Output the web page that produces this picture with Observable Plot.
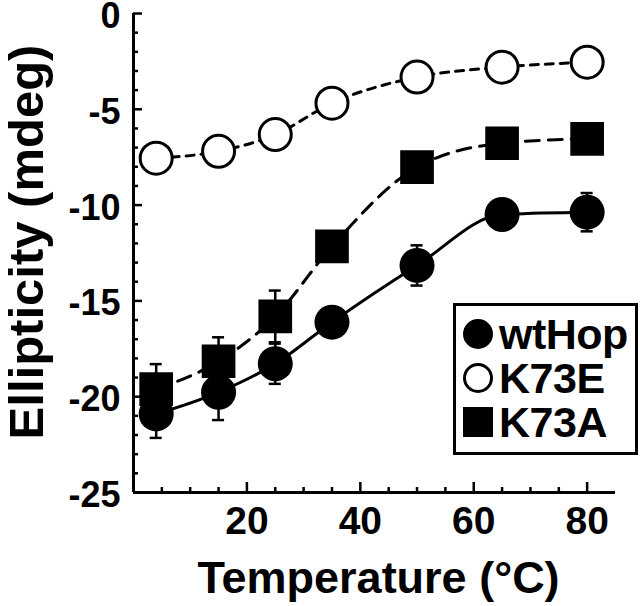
<!DOCTYPE html>
<html>
<head>
<meta charset="utf-8">
<script src="https://cdn.jsdelivr.net/npm/d3@7"></script>
<script src="https://cdn.jsdelivr.net/npm/@observablehq/plot@0.6"></script>
<style>
  html, body { margin: 0; padding: 0; background: white; }
  #wrap { position: relative; width: 640px; height: 606px; font-family: 'Liberation Sans', Arial, sans-serif; }
  #legend { position: absolute; left: 453px; top: 303px; width: 179px; height: 146px; border: 3px solid black; background: white; box-sizing: content-box; }
  .row { position: absolute; left: 0; height: 44px; display: flex; align-items: center; }
  .row svg { margin-left: 6px; }
  .row span { font-weight: bold; font-size: 43px; margin-left: 5px; line-height: 44px; color: black; letter-spacing: -0.5px; }
</style>
</head>
<body>
<div id="wrap"></div>
<script>
// ---- data ----
const temperature = [4, 15, 25, 35, 50, 65, 80];
const wtHop = [-20.9, -19.77, -18.28, -16.11, -13.15, -10.49, -10.37];
const wtHopErr = [1.25, 1.45, 1.05, 0.6, 1.05, 0.5, 1.0];
const K73E = [-7.55, -7.19, -6.32, -4.68, -3.32, -2.80, -2.54];
const K73A = [-19.6, -18.15, -15.81, -12.15, -8.02, -6.77, -6.54];
const K73AErr = [1.3, 1.25, 1.35, 0.5, 0.5, 0.5, 0.5];
const seriesNames = ["wtHop", "K73E", "K73A"];

const xMajorTicks = [20, 40, 60, 80];
const xTickLabels = ["20", "40", "60", "80"];
const xMinorTicks = [5, 10, 15, 25, 30, 35, 45, 50, 55, 65, 70, 75];
const yMajorTicks = [-25, -20, -15, -10, -5, 0];
const yTickLabels = ["-25", "-20", "-15", "-10", "-5", "0"];
const yMinorTicks = [-24,-23,-22,-21,-19,-18,-17,-16,-14,-13,-12,-11,-9,-8,-7,-6,-4,-3,-2,-1];
const xTitle = "Temperature (°C)";
const yTitle = "Ellipticity (mdeg)";

// ---- tables built from arrays ----
const wt = temperature.map((t, i) => ({t, v: wtHop[i], e: wtHopErr[i]}));
const ke = temperature.map((t, i) => ({t, v: K73E[i]}));
const ka = temperature.map((t, i) => ({t, v: K73A[i], e: K73AErr[i]}));

const xFmt = d => xTickLabels[xMajorTicks.indexOf(d)];
const yFmt = d => yTickLabels[yMajorTicks.indexOf(d)];
const font = "'Liberation Sans', Arial, sans-serif";

const errBars = (data) => [
  Plot.ruleX(data, {x: "t", y1: d => d.v - d.e, y2: d => d.v + d.e, stroke: "black", strokeWidth: 2.5}),
  Plot.ruleY(data, {y: d => d.v - d.e, x1: "t", x2: "t", insetLeft: -6, insetRight: -6, stroke: "black", strokeWidth: 2.5}),
  Plot.ruleY(data, {y: d => d.v + d.e, x1: "t", x2: "t", insetLeft: -6, insetRight: -6, stroke: "black", strokeWidth: 2.5})
];

const chart = Plot.plot({
  width: 640,
  height: 606,
  marginLeft: 133,
  marginRight: 25,
  marginTop: 13,
  marginBottom: 114,
  style: {fontFamily: font, background: "white", color: "black", overflow: "visible"},
  x: {domain: [0, 85]},
  y: {domain: [-25, 0]},
  marks: [
    // curves
    Plot.line(ke, {x: "t", y: "v", curve: "monotone-x", stroke: "black", strokeWidth: 3, strokeDasharray: "8,7"}),
    Plot.line(ka, {x: "t", y: "v", curve: "monotone-x", stroke: "black", strokeWidth: 3, strokeDasharray: "14,9"}),
    Plot.line(wt, {x: "t", y: "v", curve: "monotone-x", stroke: "black", strokeWidth: 3}),
    // error bars
    ...errBars(ka),
    ...errBars(wt),
    // markers
    Plot.dot(ka, {x: "t", y: "v", symbol: "square", r: 19, fill: "black", stroke: "none"}),
    Plot.dot(wt, {x: "t", y: "v", symbol: "circle", r: 17.5, fill: "black", stroke: "none"}),
    Plot.dot(ke, {x: "t", y: "v", symbol: "circle", r: 16, fill: "white", stroke: "black", strokeWidth: 3}),
    // axis lines
    Plot.ruleX([0], {stroke: "black", strokeWidth: 3}),
    Plot.ruleY([-25], {stroke: "black", strokeWidth: 3}),
    // ticks
    Plot.axisY({ticks: yMajorTicks, tickSize: -9, tickFormat: () => "", strokeWidth: 2.5, label: null}),
    Plot.axisY({ticks: yMinorTicks, tickSize: -5, tickFormat: () => "", strokeWidth: 2.5, label: null}),
    Plot.axisY({ticks: yMajorTicks, tickSize: 0, tickPadding: 13, tickFormat: yFmt, fontSize: 36, fontWeight: "bold", dy: 3, label: null}),
    Plot.axisX({ticks: xMajorTicks, tickSize: -10, tickFormat: () => "", strokeWidth: 2.5, label: null}),
    Plot.axisX({ticks: xMinorTicks, tickSize: -5, tickFormat: () => "", strokeWidth: 2.5, label: null}),
    Plot.axisX({ticks: xMajorTicks, tickSize: 0, tickPadding: 14, tickFormat: xFmt, fontSize: 39, fontWeight: "bold", label: null}),
    // axis titles
    Plot.text([xTitle], {frameAnchor: "bottom", text: d => d, dy: 86, dx: 4, fontSize: 45, fontWeight: "bold", lineAnchor: "middle", textAnchor: "middle"}),
    Plot.text([yTitle], {frameAnchor: "left", text: d => d, rotate: -90, dx: -125, dy: -11, fontSize: 49, fontWeight: "bold", lineAnchor: "top", textAnchor: "middle"})
  ]
});

const wrap = document.getElementById("wrap");
wrap.appendChild(chart);

// legend (HTML overlay)
const legend = document.createElement("div");
legend.id = "legend";
const symbols = {
  wtHop: '<svg width="32" height="32"><circle cx="16" cy="16" r="15" fill="black"/></svg>',
  K73E: '<svg width="32" height="32"><circle cx="16" cy="16" r="13.5" fill="white" stroke="black" stroke-width="3"/></svg>',
  K73A: '<svg width="32" height="32"><rect x="1" y="1" width="30" height="30" fill="black"/></svg>'
};
seriesNames.forEach((name, i) => {
  const row = document.createElement("div");
  row.className = "row";
  row.style.top = (6 + i * 44) + "px";
  row.innerHTML = symbols[name] + "<span>" + name + "</span>";
  legend.appendChild(row);
});
wrap.appendChild(legend);
</script>
</body>
</html>
